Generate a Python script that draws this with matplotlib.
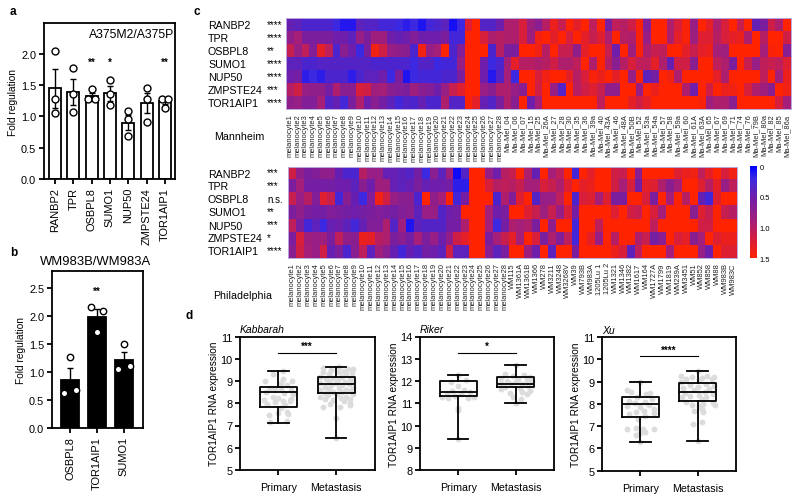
import numpy as np
import matplotlib
matplotlib.use('Agg')
import matplotlib.pyplot as plt
from matplotlib.colors import LinearSegmentedColormap

plt.rcParams['font.family'] = ['Liberation Sans', 'DejaVu Sans']
W, H = 800, 502

# panel a
genes_a = ['RANBP2', 'TPR', 'OSBPL8', 'SUMO1', 'NUP50', 'ZMPSTE24', 'TOR1AIP1']
means_a = [1.45, 1.39, 1.32, 1.37, 0.90, 1.21, 1.24]
sem_a = [0.31, 0.21, 0.05, 0.12, 0.12, 0.16, 0.05]
points_a = [[2.04, 1.28, 1.05], [1.77, 1.35, 1.07], [1.43, 1.27, 1.28], [1.58, 1.36, 1.18],
            [1.08, 0.95, 0.68], [1.45, 1.28, 0.91], [1.27, 1.27, 1.14]]
jitter_a = [[0, 0, 0], [0, 0, 0], [0, -.2, .2], [0, 0, 0], [0, 0, 0], [0, 0, 0], [-.18, .15, 0]]
stars_a = ['', '', '**', '*', '', '', '**']

# panel b
genes_b = ['OSBPL8', 'TOR1AIP1', 'SUMO1']
means_b = [0.86, 1.99, 1.22]
sem_b = [0.21, 0.14, 0.14]
points_b = [[1.28, 0.63, 0.68], [2.17, 2.10, 1.72], [1.50, 1.06, 1.11]]
jitter_b = [[0, -.22, .22], [-.21, .21, 0], [0, -.22, .22]]

# panel c
heat_genes = ['RANBP2', 'TPR', 'OSBPL8', 'SUMO1', 'NUP50', 'ZMPSTE24', 'TOR1AIP1']
stars_mannheim = ['****', '****', '**', '****', '****', '***', '****']
stars_phila = ['***', '***', 'n.s.', '**', '***', '*', '****']
melanocytes = ['melanocyte%d' % i for i in range(1, 29)]
ma_mel = ['_04', '_06', '_07', '_15', '_25', '_26A', '_27', '_28', '_30', '_35', '_36', '_39a', '_40',
          '_43A', '_46', '_48A', '_50B', '_52', '_53a', '_54a', '_57', '_58', '_59a', '_60', '_61A',
          '_63A', '_65', '_67', '_69', '_71', '_74', '_76', '_79B', '_80a', '_82', '_85', '_86a']
wm_lines = ['WM115', 'WM1361A', 'WM1361B', 'WM1366', 'WM278', 'WM3211', 'WM3248', 'WM3268V', 'WM39',
            'WM793B', 'WM983A', '1205Lu 1', '1205Lu 2', 'WM1321', 'WM1346', 'WM1382', 'WM1617', 'WM164',
            'WM1727A', 'WM1799', 'WM1819', 'WM239A', 'WM3451', 'WM51', 'WM852', 'WM858', 'WM88',
            'WM983B', 'WM983C']

mannheim = [
    [.45,.4,.3,.3,.3,.3,.2,.12,.12,.4,.35,.35,.25,.25,.2,.15,.2,.1,.25,.3,.4,.08,.2,1.25,1.5,.35,.35,.5,
     .95,.95,1.2,.85,.7,1.0,1.35,1.1,1.5,1.3,1.5,1.05,1.5,.6,1.05,1.0,1.15,1.45,.65,1.5,1.5,.95,1.2,1.45,.8,1.5,1.3,.95,1.2,1.5,1.1,1.5,.45,.6,1.15,.95,1.5],
    [.75,.9,.6,.6,.6,.6,.5,.5,.4,.8,.6,.85,.85,.5,.45,.5,.65,.5,.5,.5,.6,.25,.25,1.5,1.5,1.2,.95,1.0,
     .95,.95,1.2,.85,1.4,1.5,1.3,1.5,1.2,1.5,1.3,1.1,1.25,.95,1.5,1.0,.95,1.45,.8,1.5,1.5,.95,1.3,1.45,.85,1.25,1.25,1.0,1.2,1.3,1.35,.95,1.5,1.0,1.5,1.5,1.15],
    [1.1,.8,1.05,.65,1.3,1.05,.3,.7,.5,.2,.6,1.4,1.15,.8,.75,.7,.3,1.4,.8,.9,1.5,.3,.65,1.5,1.5,1.5,.3,1.0,
     .6,.6,1.5,1.5,1.4,1.0,1.5,1.1,1.1,.75,1.3,1.5,1.5,1.1,.5,1.5,.85,1.45,.95,1.1,1.05,1.5,1.5,1.3,1.1,1.3,1.35,.9,.85,1.5,1.5,1.5,1.5,.9,1.45,1.5,.7],
    [.4,.4,.3,.3,.35,.35,.35,.35,.35,.35,.35,.3,.3,.3,.3,.3,.2,.35,.35,.2,.25,.25,.8,1.5,1.5,.5,.2,.3,
     .9,1.3,1.0,1.0,.95,1.0,1.15,.95,.95,1.05,1.5,.95,1.5,1.0,.7,1.0,1.2,1.05,1.05,1.3,.95,.45,1.15,1.15,.7,1.5,1.5,1.05,.95,.6,1.5,1.1,.8,1.05,1.1,1.05,1.25],
    [.5,.55,.15,.2,.15,.3,.3,.3,.15,.3,.4,.4,.5,.2,.6,.1,.2,.25,.25,.25,.3,.3,.6,1.5,1.5,.5,.12,.35,
     .9,.2,1.5,1.5,1.2,1.4,1.5,1.5,1.3,1.0,1.2,1.45,1.35,1.5,1.3,1.5,.8,1.45,.4,.55,1.5,1.4,.95,1.5,1.5,1.5,1.5,1.3,.95,1.5,1.5,1.5,1.5,1.05,1.5,.9,1.35],
    [1.0,1.15,.8,.75,.75,.55,.95,.7,.7,1.2,1.15,.85,.9,.7,.65,.6,.85,.7,.65,.5,.8,1.1,1.25,1.5,1.5,.8,.7,.95,
     .95,.8,.7,1.5,1.15,1.5,.8,.35,1.5,1.0,1.15,1.25,1.1,.75,.75,1.5,1.5,.8,1.5,1.35,1.5,1.5,1.5,.95,.5,1.5,1.15,1.5,1.35,1.4,1.5,1.2,.95,.85,.7,1.5,1.4],
    [.75,.8,.65,.65,.9,.35,.45,.25,.6,.95,.5,.7,.55,.4,.25,.35,.3,.45,.3,.3,.95,.35,.35,1.5,1.3,.45,.35,.6,
     .95,.7,1.5,.5,.9,1.5,1.5,1.5,1.5,1.5,1.5,1.5,1.05,1.5,1.5,1.5,1.3,1.15,1.3,1.5,1.5,1.5,1.5,1.5,1.5,1.45,.85,.95,.95,.7,1.5,1.5,1.5,1.5,1.5,1.2,.9],
]
philadelphia = [
    [1.15,.75,.6,.65,.75,.75,.45,.3,.3,1.0,.8,.8,.45,.45,.4,.35,.55,.2,.7,.4,.85,.05,.35,1.5,1.5,.8,.5,1.0,
     1.1,1.5,.95,.45,1.5,.9,1.05,1.5,.25,1.5,1.3,1.5,1.5,1.15,1.1,1.5,.7,1.5,1.5,1.5,1.5,1.25,1.35,1.4,1.05,1.3,1.5,1.2,1.4],
    [.6,.9,.55,.55,.55,.55,.5,.5,.4,.7,.5,.85,.85,.45,.4,.45,.6,.45,.5,.5,.55,.15,.15,1.5,1.5,1.2,1.0,1.05,
     1.0,1.1,.9,.9,1.2,1.1,.95,1.25,1.5,1.3,1.35,1.5,1.5,1.15,.9,1.2,.55,1.3,1.25,.95,.7,.9,1.5,1.5,1.25,1.0,1.3,.8,1.05],
    [1.1,.8,1.0,.65,1.25,1.1,.25,.7,.45,.2,.65,1.4,1.15,.8,.7,.7,.3,1.5,.75,.9,1.5,.25,.55,1.5,1.5,1.5,.3,.95,
     .65,1.25,1.5,.35,.8,.8,1.05,1.5,.3,1.2,1.25,.9,1.25,.6,.6,1.5,1.5,1.2,.6,1.5,.9,1.5,1.0,1.5,.45,.25,1.25,1.5,1.5],
    [.6,.75,.6,.55,.55,.65,.6,.55,.5,.55,.6,.65,.6,.55,.65,.7,.4,.8,.8,.35,.5,.55,1.5,1.5,1.5,.9,.5,.6,
     1.5,1.5,1.25,1.1,.85,1.1,.8,1.2,.55,1.5,1.5,1.5,1.5,1.25,1.5,1.15,1.1,1.5,1.2,.9,1.5,1.5,1.5,.7,1.25,1.1,1.5,1.1,1.0],
    [1.05,.6,.25,.4,.2,.45,.5,.4,.25,.45,.65,.65,.95,.35,.85,.1,.4,.35,.35,.35,.55,.55,.95,1.5,1.5,.9,.2,.55,
     .95,.9,.95,.6,1.5,.75,1.5,1.5,.25,1.5,1.5,1.05,1.5,1.5,1.5,1.5,1.5,1.5,1.05,1.5,1.5,1.5,1.5,1.5,1.15,1.15,1.5,1.5,1.5],
    [.6,1.2,.85,.8,.85,.6,1.05,.75,.7,1.35,1.3,1.0,.95,.6,.7,.55,.9,.6,.8,.5,.75,1.15,1.3,1.5,1.5,.6,.9,1.1,
     1.3,.9,1.5,1.2,.6,.95,.65,1.05,.25,1.5,1.3,.8,1.5,1.0,1.5,1.5,.95,1.1,.55,.7,1.5,1.2,1.3,.7,.9,1.5,1.25,1.35,1.35],
    [.7,1.15,.9,.8,1.15,.45,.6,.3,.7,1.05,.4,.85,.7,.45,.25,.45,.35,.55,.5,.4,1.15,.4,.4,1.5,1.5,.7,.4,.6,
     1.5,1.5,.85,.5,1.5,.4,1.5,1.5,.6,1.5,1.5,1.5,1.5,1.35,1.2,.4,1.05,1.5,1.5,1.5,.9,1.5,1.5,1.5,.8,.5,1.5,1.25,1.25],
]

# panel d
groups_d = ['Primary', 'Metastasis']
titles_d = ['Kabbarah', 'Riker', 'Xu']
stars_d = ['***', '*', '****']
ylims_d = [(5, 11), (8, 14), (5, 11)]
bracket_d = [10.26, 13.26, 10.13]
# whislo, q1, med, q3, whishi
box_d = [[[7.1, 7.83, 8.5, 8.75, 9.45], [6.45, 8.45, 8.88, 9.17, 9.63]],
         [[9.4, 11.35, 11.53, 12.0, 12.27], [11.0, 11.73, 11.85, 12.2, 12.7]],
         [[6.28, 7.43, 7.98, 8.3, 8.97], [6.32, 8.13, 8.55, 8.95, 9.48]]]
kab_pri = [9.45,9.3,9.1,9.0,9.0,8.9,8.8,8.7,8.7,8.6,8.5,8.45,8.4,8.3,8.25,8.2,8.15,8.1,8.1,8.05,7.95,7.9,7.8,7.6,7.55,7.5,7.45,7.2,7.15,8.6]
kab_pri_dx = [.08,-.1,.08,-.23,.23,.05,.15,-.15,.05,.22,-.22,.1,.25,-.1,.0,.22,-.25,.08,.2,-.05,-.2,.12,.05,.15,-.0,.16,-.16,.15,-.15,-.05]
kab_met = [9.63,9.6,9.55,9.55,9.5,9.45,9.4,9.4,9.35,9.3,9.3,9.2,9.2,9.15,9.1,9.1,9.05,9.0,9.0,8.95,8.9,8.9,8.85,8.8,8.8,8.75,8.7,8.7,8.65,8.6,8.6,8.55,8.5,8.5,8.45,8.4,8.4,8.35,8.3,8.3,8.25,8.2,8.2,8.15,8.1,8.0,7.95,7.9,7.85,7.85,7.35,6.45]
kab_met_dx = [.05,-.22,.3,.2,-.08,.14,-.22,.05,.28,-.12,.18,-.28,.1,-.05,.25,-.18,.03,.3,-.12,.15,-.28,.0,.22,-.08,.1,-.2,.3,.05,-.12,.18,-.28,.25,-.05,.1,-.2,.3,.02,-.14,.17,-.28,.08,-.2,.25,-.05,.13,.25,-.1,.24,-.23,.07,.0,.0]
rik_pri = [12.27,12.05,11.95,11.8,11.6,11.55,11.5,11.45,11.4,11.35,11.3,11.3,11.25,11.25,10.8,10.7,9.4]
rik_pri_dx = [.0,.13,-.13,.0,.1,-.1,.2,-.2,.05,-.05,.28,-.28,.17,-.17,.0,.0,.0]
rik_met = [12.7,12.3,12.28,12.25,12.2,12.15,12.1,12.05,12.0,12.0,11.95,11.9,11.85,11.85,11.8,11.75,11.7,11.65,11.55,11.5,11.45,11.4,11.3,11.2,11.0]
rik_met_dx = [.0,-.18,.14,-.05,.26,-.26,.05,.2,-.15,.28,.0,-.25,.12,-.08,.22,-.18,.08,-.25,.26,.12,-.1,.2,-.04,.1,.0]
xu_pri = [8.97,8.6,8.55,8.5,8.45,8.3,8.2,8.15,8.1,8.05,7.95,7.9,7.85,7.75,7.7,7.65,7.6,7.55,7.45,7.3,6.9,6.88,6.85,6.85,6.75,6.7,6.6,6.28]
xu_pri_dx = [.0,-.23,-.17,.16,.1,-.06,.2,-.2,.08,-.1,.15,-.23,.0,.23,.07,-.08,.23,-.2,.08,-.05,-.08,-.23,.23,.05,.08,.0,-.08,.0]
xu_met = [9.48,9.25,9.25,9.2,9.2,9.15,9.1,9.1,9.05,9.0,8.9,8.85,8.8,8.75,8.7,8.65,8.6,8.55,8.5,8.45,8.4,8.35,8.3,8.3,8.2,8.1,8.05,8.0,7.95,7.95,7.9,7.75,7.7,7.65,7.2,7.1,6.32]
xu_met_dx = [.0,-.29,.17,.29,-.1,.08,-.2,.25,.03,-.29,.14,-.14,.28,.0,-.25,.2,-.07,.12,-.22,.27,.02,-.14,.15,-.28,.07,-.2,.27,.1,-.1,.3,.02,.08,-.07,.1,.07,-.08,.0]
scatter_d = [[(kab_pri, kab_pri_dx), (kab_met, kab_met_dx)],
             [(rik_pri, rik_pri_dx), (rik_met, rik_met_dx)],
             [(xu_pri, xu_pri_dx), (xu_met, xu_met_dx)]]


def ax_px(l, t, r, b):
    return fig.add_axes([l / W, 1 - b / H, (r - l) / W, (b - t) / H])


def txt(x, y, s, **kw):
    kw.setdefault('va', 'center')
    kw.setdefault('ha', 'left')
    fig.text(x / W, 1 - y / H, s, **kw)


def style(ax, lw=1.3):
    for s in ax.spines.values():
        s.set_linewidth(lw)
    ax.tick_params(width=lw, length=3.6, labelsize=7.9, pad=2)


def bars(ax, means, sem, points, jitter, fill, ms):
    x = np.arange(len(means))
    ax.bar(x, means, width=0.65, color=fill, edgecolor='k', linewidth=1.3)
    ax.errorbar(x, means, yerr=sem, fmt='none', ecolor='k', elinewidth=1, capsize=2.2, capthick=1, zorder=3)
    for i in x:
        ax.plot(i + np.array(jitter[i]), points[i], 'o', mfc='w', mec='k', mew=1, ms=ms, zorder=4, clip_on=False)


fig = plt.figure(figsize=(W / 100, H / 100), dpi=100)

# a
ax = ax_px(44, 24, 175, 180)
bars(ax, means_a, sem_a, points_a, jitter_a, 'w', 5)
ax.set_xlim(-0.6, 6.55)
ax.set_ylim(0, 2.49)
ax.set_yticks([0, .5, 1, 1.5, 2])
ax.set_yticklabels(['0.0', '0.5', '1.0', '1.5', '2.0'])
ax.set_xticks(range(7))
ax.set_xticklabels(genes_a, rotation=90)
ax.set_ylabel('Fold regulation', fontsize=7.3, labelpad=2)
style(ax)
for i, s in enumerate(stars_a):
    ax.text(i, 1.87, s, ha='center', va='center', fontsize=7, fontweight='bold')
ax.text(0.995, 0.93, 'A375M2/A375P', transform=ax.transAxes, ha='right', va='center', fontsize=8.8)

# b
ax = ax_px(52, 272.3, 142.7, 429.3)
bars(ax, means_b, sem_b, points_b, jitter_b, 'k', 4.6)
ax.set_xlim(-0.67, 2.7)
ax.set_ylim(0, 2.8)
ax.set_yticks([0, .5, 1, 1.5, 2, 2.5])
ax.set_yticklabels(['0.0', '0.5', '1.0', '1.5', '2.0', '2.5'])
ax.set_xticks(range(3))
ax.set_xticklabels(genes_b, rotation=90)
ax.set_ylabel('Fold regulation', fontsize=7.3, labelpad=2)
style(ax)
ax.text(1, 2.46, '**', ha='center', va='center', fontsize=7, fontweight='bold')
txt(96, 262, 'WM983B/WM983A', ha='center', fontsize=9.4)

# c
cmap = LinearSegmentedColormap.from_list('bluered', [
    (0, '#0000ff'), (.2 / 1.5, '#3c28e1'), (.5 / 1.5, '#6e1eaa'),
    (.9 / 1.5, '#a51e78'), (1.2 / 1.5, '#d71e3c'), (1, '#ff2300')])


def heat(box, data, labels, stars, name, name_x, name_y):
    l, t, r, b = box
    ax = ax_px(l, t, r, b)
    im = ax.imshow(np.array(data), cmap=cmap, vmin=0, vmax=1.5, aspect='auto', interpolation='nearest')
    ax.set_xticks(range(len(labels)))
    ax.set_xticklabels(labels, rotation=90, fontsize=5.4, color='#222222')
    ax.set_yticks([])
    ax.tick_params(axis='x', length=0, pad=3)
    for s in ax.spines.values():
        s.set_edgecolor('#b9a8e0')
        s.set_linewidth(0.7)
    row_h = (b - t) / len(heat_genes)
    for i, g in enumerate(heat_genes):
        y = t + row_h * (i + .5)
        txt(208, y, g, fontsize=7.7)
        txt(267, y + (0 if stars[i] == 'n.s.' else -1), stars[i], fontsize=7)
    txt(name_x, name_y, name, fontsize=7.7)
    return im


heat((286, 19.3, 791, 110.3), mannheim, melanocytes + ['Ma-Mel' + m for m in ma_mel], stars_mannheim,
     'Mannheim', 214, 137)
im = heat((288.3, 168, 737.3, 259), philadelphia, melanocytes + wm_lines, stars_phila,
          'Philadelphia', 213, 296)
cax = ax_px(750, 167.3, 756.7, 259)
cb = fig.colorbar(im, cax=cax)
cb.set_ticks([0, .5, 1, 1.5])
cb.set_ticklabels(['0', '0.5', '1.0', '1.5'])
cax.invert_yaxis()
cax.tick_params(length=0, labelsize=5.4, pad=2)
cb.outline.set_visible(False)

# d
boxes_d = [(240, 337.5, 375, 471), (420, 337.5, 554.3, 471.3), (602.3, 338, 736.3, 471.7)]
for k, box in enumerate(boxes_d):
    ax = ax_px(*box)
    for j in range(2):
        ys, dx = scatter_d[k][j]
        ax.scatter(j + np.array(dx), ys, s=18, color='#dcdcdc', linewidths=0, zorder=1)
        lo, q1, med, q3, hi = box_d[k][j]
        ax.bxp([dict(med=med, q1=q1, q3=q3, whislo=lo, whishi=hi, fliers=[])], positions=[j], widths=.64,
               capwidths=.36, showfliers=False, manage_ticks=False, zorder=2,
               boxprops=dict(linewidth=1.3, color='k'), medianprops=dict(linewidth=1.3, color='k'),
               whiskerprops=dict(linewidth=1.3, color='k'), capprops=dict(linewidth=1.3, color='k'))
    ax.set_xlim(-.665, 1.675)
    ax.set_ylim(*ylims_d[k])
    ax.set_yticks(range(ylims_d[k][0], ylims_d[k][1] + 1))
    ax.set_xticks([0, 1])
    ax.set_xticklabels(groups_d, fontsize=7.7)
    ax.set_ylabel('TOR1AIP1 RNA expression', fontsize=7.3, labelpad=1)
    style(ax)
    ax.tick_params(axis='x', labelsize=7.7, pad=5)
    ax.plot([0, 1], [bracket_d[k]] * 2, color='k', lw=0.8)
    ax.text(.5, bracket_d[k] + .3, stars_d[k], ha='center', va='center', fontsize=7, fontweight='bold')
    ax.text(0, 1.055, titles_d[k], transform=ax.transAxes, ha='left', va='center', fontsize=7.5, style='italic')

# panel letters
for s, x, y in [('a', 10, 12), ('b', 10, 253), ('c', 193, 12), ('d', 186, 316)]:
    txt(x, y, s, fontsize=8.5, fontweight='bold')

fig.savefig('out.png', dpi=100)
